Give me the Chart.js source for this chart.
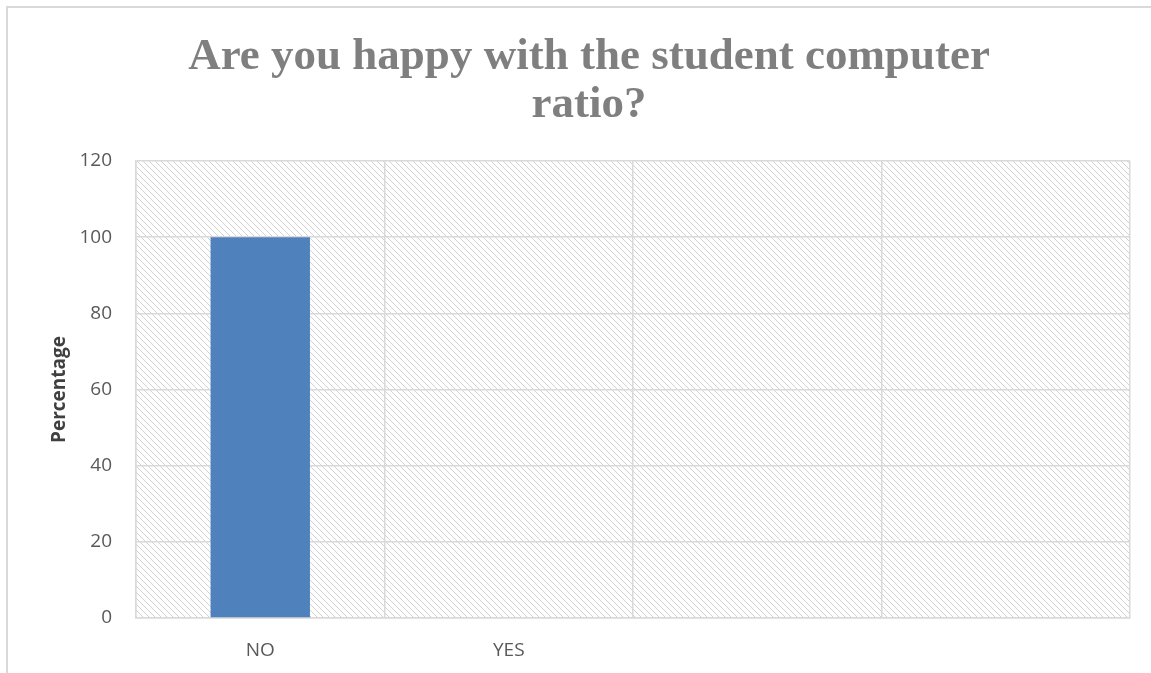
<!DOCTYPE html>
<html>
<head>
<meta charset="utf-8">
<script src="https://cdn.jsdelivr.net/npm/chart.js@4/dist/chart.umd.min.js"></script>
<style>
  html, body { margin: 0; padding: 0; background: #fff; }
  #wrap { position: relative; width: 1151px; height: 673px; }
</style>
</head>
<body>
<div id="wrap"><canvas id="ratioChart" width="1151" height="673"></canvas></div>
<script>
// valores
const categorias = ['NO', 'YES', '', ''];
const percentagens = [100, 0, null, null];
const yTicks = [0, 20, 40, 60, 80, 100, 120];
const titulo = ['Are you happy with the student computer', 'ratio?'];
const tituloEixoY = 'Percentage';

const GRID_COLOR = '#d9d9d9';
const TEXT_COLOR = '#595959';

// textura diagonal do fundo da área de plotagem
function makeHatch() {
    const tile = document.createElement('canvas');
    tile.width = 6;
    tile.height = 6;
    const c = tile.getContext('2d');
    c.fillStyle = '#ffffff';
    c.fillRect(0, 0, 6, 6);
    c.strokeStyle = '#d2d2d2';
    c.lineWidth = 1;
    c.beginPath();
    c.moveTo(-1, -1); c.lineTo(7, 7);
    c.moveTo(-4, 2); c.lineTo(1, 7);
    c.moveTo(5, -1); c.lineTo(7, 1);
    c.stroke();
    return tile;
}

const backgroundPlugin = {
    id: 'hatchBackground',
    beforeDraw(chart) {
        const { ctx, chartArea } = chart;
        ctx.save();
        ctx.fillStyle = ctx.createPattern(makeHatch(), 'repeat');
        ctx.fillRect(chartArea.left, chartArea.top, chartArea.right - chartArea.left, chartArea.bottom - chartArea.top);
        // moldura externa do gráfico
        ctx.strokeStyle = GRID_COLOR;
        ctx.lineWidth = 2;
        ctx.beginPath();
        ctx.moveTo(7, 673);
        ctx.lineTo(7, 7);
        ctx.lineTo(1151, 7);
        ctx.stroke();
        ctx.restore();
    }
};

const ctx = document.getElementById('ratioChart');
new Chart(ctx, {
    type: 'bar',
    data: {
        labels: categorias,
        datasets: [{
            label: 'Percentage',
            data: percentagens,
            backgroundColor: '#4f81bd',
            borderWidth: 0,
            categoryPercentage: 0.8,
            barPercentage: 0.5
        }]
    },
    options: {
        responsive: false,
        animation: false,
        layout: { padding: { left: 48, right: 21, top: 0, bottom: 0 } },
        plugins: {
            legend: { display: false },
            tooltip: { enabled: false },
            title: {
                display: true,
                text: titulo,
                color: '#7f7f7f',
                font: { family: '"Liberation Serif", serif', size: 45, weight: 'bold', lineHeight: 1.067 },
                padding: { top: 33, bottom: 32 }
            }
        },
        scales: {
            x: {
                grid: { color: GRID_COLOR, lineWidth: 1.5, offset: true, drawTicks: false },
                border: { color: GRID_COLOR, width: 1.5 },
                ticks: { color: TEXT_COLOR, font: { family: '"Open Sans", sans-serif', size: 19 }, padding: 21, maxRotation: 0 },
                afterFit: s => { s.height = 55; }
            },
            y: {
                min: 0,
                max: 120,
                afterBuildTicks: s => { s.ticks = yTicks.map(v => ({ value: v })); },
                grid: { color: GRID_COLOR, lineWidth: 1.5, drawTicks: false },
                border: { color: GRID_COLOR, width: 1.5 },
                ticks: { color: TEXT_COLOR, font: { family: '"Open Sans", sans-serif', size: 19 }, padding: 24 },
                title: {
                    display: true,
                    text: tituloEixoY,
                    color: '#404040',
                    font: { family: '"Open Sans", sans-serif', size: 19, weight: 'bold' },
                    padding: 0
                },
                afterFit: s => { s.width = 88; }
            }
        }
    },
    plugins: [backgroundPlugin]
});
</script>
</body>
</html>
